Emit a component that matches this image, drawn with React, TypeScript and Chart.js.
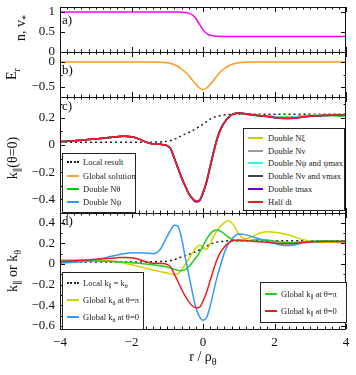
import React, { useEffect, useRef } from 'react';
import { Chart, registerables } from 'chart.js';

Chart.register(...registerables);

// ---------- data ----------
const X = [-4, -3.8, -3.6, -3.4, -3.2, -3, -2.8, -2.6, -2.4, -2.2, -2, -1.8, -1.6, -1.4, -1.2,
  -1, -0.9, -0.8, -0.7, -0.6, -0.5, -0.4, -0.3, -0.2, -0.1, 0, 0.1, 0.2, 0.3, 0.4, 0.5, 0.6, 0.7, 0.8, 0.9, 1,
  1.2, 1.4, 1.6, 1.8, 2, 2.2, 2.4, 2.6, 2.8, 3, 3.2, 3.4, 3.6, 3.8, 4];

const densityN = [1, 1, 1, 1, 1, 1, 1, 1, 1, 1, 1, 1, 1, 1, 1,
  1, 1, 0.999, 0.998, 0.996, 0.989, 0.971, 0.927, 0.836, 0.695, 0.554, 0.463, 0.419, 0.402, 0.394, 0.391, 0.39, 0.39, 0.39, 0.39, 0.39,
  0.39, 0.39, 0.39, 0.39, 0.39, 0.39, 0.39, 0.39, 0.39, 0.39, 0.39, 0.39, 0.39, 0.39, 0.39];

const radialEr = [0, 0, 0, 0, 0, 0, 0, 0, 0, 0, 0, 0, 0, -0.001, -0.004,
  -0.015, -0.03, -0.055, -0.09, -0.14, -0.2, -0.27, -0.36, -0.44, -0.52, -0.55, -0.52, -0.45, -0.36, -0.27, -0.19, -0.13, -0.085, -0.05, -0.03, -0.016,
  -0.005, -0.001, 0, 0, 0, 0, 0, 0, 0, 0, 0, 0, 0, 0, 0];

const localResult = [0.02, 0.02, 0.02, 0.02, 0.02, 0.02, 0.02, 0.02, 0.02, 0.02, 0.02, 0.02, 0.02, 0.021, 0.023,
  0.027, 0.033, 0.042, 0.055, 0.068, 0.08, 0.092, 0.105, 0.12, 0.136, 0.153, 0.172, 0.19, 0.203, 0.212, 0.218, 0.222, 0.224, 0.225, 0.226, 0.226,
  0.226, 0.226, 0.226, 0.226, 0.226, 0.226, 0.226, 0.226, 0.226, 0.226, 0.226, 0.226, 0.226, 0.226, 0.226];

const globalSolution = [0.024, 0.027, 0.031, 0.035, 0.04, 0.045, 0.05, 0.056, 0.061, 0.064, 0.06, 0.045, 0.022, 0.008, 0.005,
  -0.005, -0.03, -0.1, -0.17, -0.24, -0.3, -0.355, -0.39, -0.41, -0.405, -0.35, -0.27, -0.16, -0.05, 0.05, 0.12, 0.165, 0.2, 0.222, 0.232, 0.234,
  0.228, 0.22, 0.216, 0.213, 0.208, 0.204, 0.204, 0.207, 0.212, 0.216, 0.218, 0.219, 0.219, 0.219, 0.22];

const doubleNtheta = [0.024, 0.027, 0.031, 0.035, 0.04, 0.045, 0.05, 0.056, 0.061, 0.064, 0.06, 0.045, 0.022, 0.008, 0.005,
  -0.005, -0.03, -0.1, -0.17, -0.24, -0.3, -0.355, -0.39, -0.41, -0.405, -0.35, -0.27, -0.16, -0.05, 0.05, 0.12, 0.165, 0.2, 0.222, 0.231, 0.232,
  0.226, 0.218, 0.214, 0.211, 0.207, 0.204, 0.205, 0.208, 0.212, 0.215, 0.216, 0.216, 0.215, 0.214, 0.213];

const doubleNpsi = [0.024, 0.027, 0.031, 0.035, 0.04, 0.045, 0.05, 0.056, 0.061, 0.064, 0.06, 0.045, 0.022, 0.008, 0.005,
  -0.005, -0.03, -0.1, -0.17, -0.24, -0.3, -0.357, -0.393, -0.415, -0.41, -0.352, -0.27, -0.16, -0.05, 0.05, 0.12, 0.165, 0.2, 0.222, 0.232, 0.234,
  0.228, 0.219, 0.215, 0.212, 0.207, 0.203, 0.203, 0.206, 0.211, 0.215, 0.217, 0.218, 0.218, 0.218, 0.219];

const doubleNxi = [0.024, 0.027, 0.031, 0.035, 0.04, 0.045, 0.05, 0.056, 0.061, 0.064, 0.06, 0.045, 0.022, 0.008, 0.005,
  -0.005, -0.03, -0.1, -0.17, -0.24, -0.3, -0.355, -0.39, -0.41, -0.405, -0.35, -0.27, -0.16, -0.05, 0.05, 0.12, 0.165, 0.2, 0.223, 0.233, 0.236,
  0.23, 0.222, 0.218, 0.215, 0.21, 0.206, 0.206, 0.209, 0.214, 0.219, 0.221, 0.222, 0.223, 0.224, 0.225];

const doubleNv = [0.024, 0.027, 0.031, 0.035, 0.04, 0.045, 0.05, 0.056, 0.061, 0.064, 0.06, 0.045, 0.022, 0.008, 0.005,
  -0.005, -0.03, -0.1, -0.17, -0.24, -0.3, -0.355, -0.39, -0.41, -0.405, -0.35, -0.27, -0.16, -0.05, 0.05, 0.12, 0.165, 0.2, 0.222, 0.232, 0.234,
  0.228, 0.22, 0.216, 0.213, 0.208, 0.204, 0.204, 0.207, 0.212, 0.216, 0.218, 0.219, 0.219, 0.219, 0.22];

const doubleNpsiPsimax = [0.024, 0.027, 0.031, 0.035, 0.04, 0.045, 0.05, 0.056, 0.061, 0.064, 0.06, 0.045, 0.022, 0.008, 0.005,
  -0.005, -0.03, -0.1, -0.17, -0.24, -0.3, -0.355, -0.39, -0.41, -0.4, -0.34, -0.26, -0.14, -0.03, 0.065, 0.13, 0.172, 0.204, 0.224, 0.233, 0.234,
  0.228, 0.22, 0.216, 0.213, 0.208, 0.204, 0.204, 0.207, 0.212, 0.216, 0.218, 0.219, 0.219, 0.219, 0.22];

const doubleNvVmax = [0.024, 0.027, 0.031, 0.035, 0.04, 0.045, 0.05, 0.056, 0.061, 0.064, 0.06, 0.045, 0.022, 0.008, 0.005,
  -0.005, -0.03, -0.1, -0.17, -0.24, -0.3, -0.357, -0.393, -0.415, -0.41, -0.352, -0.27, -0.16, -0.05, 0.05, 0.12, 0.165, 0.2, 0.222, 0.232, 0.235,
  0.23, 0.222, 0.215, 0.21, 0.202, 0.196, 0.195, 0.199, 0.206, 0.212, 0.215, 0.217, 0.218, 0.218, 0.219];

const doubleTmax = [0.024, 0.027, 0.031, 0.035, 0.04, 0.045, 0.05, 0.056, 0.061, 0.064, 0.06, 0.045, 0.022, 0.008, 0.005,
  -0.005, -0.03, -0.1, -0.17, -0.24, -0.3, -0.358, -0.395, -0.42, -0.412, -0.354, -0.272, -0.16, -0.05, 0.05, 0.12, 0.165, 0.2, 0.222, 0.232, 0.235,
  0.229, 0.221, 0.214, 0.209, 0.201, 0.195, 0.194, 0.198, 0.205, 0.211, 0.215, 0.217, 0.218, 0.218, 0.219];

const halfDt = [0.024, 0.027, 0.031, 0.035, 0.04, 0.045, 0.05, 0.056, 0.061, 0.064, 0.06, 0.045, 0.022, 0.008, 0.005,
  -0.005, -0.03, -0.1, -0.17, -0.24, -0.3, -0.356, -0.392, -0.412, -0.407, -0.35, -0.27, -0.16, -0.05, 0.05, 0.12, 0.165, 0.2, 0.222, 0.231, 0.233,
  0.228, 0.22, 0.215, 0.21, 0.203, 0.197, 0.196, 0.2, 0.207, 0.213, 0.216, 0.218, 0.219, 0.219, 0.22];

const kThetaPi = [0.04, 0.04, 0.04, 0.04, 0.04, 0.039, 0.037, 0.032, 0.022, 0.008, -0.008, -0.024, -0.042, -0.058, -0.074,
  -0.088, -0.097, -0.105, -0.092, -0.055, -0.005, 0.048, 0.105, 0.155, 0.185, 0.16, 0.142, 0.195, 0.265, 0.325, 0.37, 0.4, 0.418, 0.4, 0.355, 0.29,
  0.242, 0.27, 0.3, 0.312, 0.308, 0.298, 0.28, 0.258, 0.236, 0.221, 0.213, 0.21, 0.21, 0.21, 0.21];

const kThetaZero = [0.01, 0.012, 0.016, 0.022, 0.03, 0.042, 0.056, 0.072, 0.088, 0.1, 0.108, 0.11, 0.106, 0.1, 0.14,
  0.27, 0.33, 0.375, 0.365, 0.25, 0.07, -0.1, -0.27, -0.42, -0.51, -0.545, -0.52, -0.41, -0.26, -0.12, 0.0, 0.11, 0.19, 0.24, 0.275, 0.29,
  0.282, 0.262, 0.24, 0.22, 0.2, 0.182, 0.178, 0.188, 0.205, 0.215, 0.22, 0.222, 0.22, 0.218, 0.217];

const kParPi = [0.03, 0.03, 0.03, 0.03, 0.029, 0.028, 0.026, 0.024, 0.022, 0.018, 0.013, 0.007, 0, -0.008, -0.018,
  -0.03, -0.04, -0.052, -0.062, -0.065, -0.055, -0.03, 0.015, 0.06, 0.11, 0.175, 0.24, 0.29, 0.322, 0.33, 0.315, 0.29, 0.262, 0.242, 0.228, 0.222,
  0.224, 0.232, 0.236, 0.232, 0.222, 0.212, 0.207, 0.209, 0.214, 0.219, 0.221, 0.222, 0.222, 0.221, 0.221];

const kParZero = [0.024, 0.027, 0.031, 0.035, 0.04, 0.045, 0.05, 0.056, 0.061, 0.064, 0.06, 0.045, 0.022, 0.008, 0.005,
  -0.005, -0.03, -0.1, -0.17, -0.245, -0.31, -0.365, -0.405, -0.425, -0.42, -0.36, -0.275, -0.16, -0.05, 0.05, 0.12, 0.165, 0.2, 0.222, 0.23, 0.232,
  0.228, 0.22, 0.215, 0.21, 0.203, 0.197, 0.196, 0.2, 0.207, 0.213, 0.216, 0.218, 0.219, 0.219, 0.22];

const xTickLabels = [-4, -2, 0, 2, 4];
const yTicksA = [0, 0.5, 1];
const yTicksB = [0, -0.5];
const yTicksC = [0.2, 0, -0.2, -0.4];
const yTicksD = [0.4, 0.2, 0, -0.2, -0.4, -0.6];

// ---------- styles / layout ----------
const W = 356;
const H = 375;
const FONT = '"Liberation Serif", "DejaVu Serif", serif';

const C = {
  magenta: '#ff00ff',
  er: '#ff9a1f',
  local: '#222222',
  global: '#ffa040',
  green: '#00cc00',
  blue: '#3399ff',
  yellow: '#cccc00',
  gray: '#9a9a9a',
  cyan: '#33f5f5',
  dark: '#444444',
  purple: '#6a00cc',
  red: '#ff1a1a',
  dYellow: '#d2d200',
  dGreen: '#22cc22',
  dRed: '#ee1c1c',
};

type Series = { label: string; values: number[]; color: string; dash?: number[]; width?: number };
type Panel = {
  key: string; top: number; bottom: number; min: number; max: number;
  yLabels: number[]; yStep: number; letter: string; letterY: number; xLabels: boolean;
  series: Series[];
};

// first series is drawn on top
const PANELS: Panel[] = [
  {
    key: 'a', top: 7, bottom: 52, min: 0, max: 1.125, yLabels: yTicksA, yStep: 0.5, letter: 'a)', letterY: 21, xLabels: false,
    series: [{ label: 'n', values: densityN, color: C.magenta }],
  },
  {
    key: 'b', top: 52, bottom: 97, min: -0.7, max: 0.2, yLabels: yTicksB, yStep: 0.25, letter: 'b)', letterY: 71, xLabels: false,
    series: [{ label: 'Er', values: radialEr, color: C.er }],
  },
  {
    key: 'c', top: 97, bottom: 213, min: -0.5, max: 0.353, yLabels: yTicksC, yStep: 0.1, letter: 'c)', letterY: 107, xLabels: false,
    series: [
      { label: 'Half dt', values: halfDt, color: C.red },
      { label: 'Double tmax', values: doubleTmax, color: C.purple },
      { label: 'Double Nv and vmax', values: doubleNvVmax, color: C.dark },
      { label: 'Double Nψ and ψmax', values: doubleNpsiPsimax, color: C.cyan },
      { label: 'Double Nv', values: doubleNv, color: C.gray },
      { label: 'Double Nξ', values: doubleNxi, color: C.yellow },
      { label: 'Double Nψ', values: doubleNpsi, color: C.blue },
      { label: 'Double Nθ', values: doubleNtheta, color: C.green },
      { label: 'Global solution', values: globalSolution, color: C.global },
      { label: 'Local result', values: localResult, color: C.local, dash: [2, 3] },
    ],
  },
  {
    key: 'd', top: 213, bottom: 329, min: -0.63, max: 0.494, yLabels: yTicksD, yStep: 0.1, letter: 'd)', letterY: 222, xLabels: true,
    series: [
      { label: 'Global k∥ at θ=0', values: kParZero, color: C.dRed },
      { label: 'Global k∥ at θ=π', values: kParPi, color: C.dGreen },
      { label: 'Global kθ at θ=0', values: kThetaZero, color: C.blue },
      { label: 'Global kθ at θ=π', values: kThetaPi, color: C.dYellow },
      { label: 'Local k∥ = kθ', values: localResult, color: C.local, dash: [2, 3] },
    ],
  },
];

const fmt = (v: number) => (v < 0 ? '\u2212' : '') + String(Math.abs(v));

function makeFramePlugin(p: Panel) {
  return {
    id: 'frame_' + p.key,
    afterDraw(chart: any) {
      const { ctx, chartArea: a } = chart;
      const xs = chart.scales.x;
      const ys = chart.scales.y;
      ctx.save();
      ctx.strokeStyle = '#111';
      ctx.lineWidth = 1;
      ctx.beginPath();
      for (let i = 0; i <= 40; i++) {
        const v = -4 + i * 0.2;
        const px = Math.round(xs.getPixelForValue(v)) + 0.5;
        const len = i % 10 === 0 ? 5 : 2.5;
        ctx.moveTo(px, a.top);
        ctx.lineTo(px, a.top + len);
        ctx.moveTo(px, a.bottom);
        ctx.lineTo(px, a.bottom - len);
      }
      const n0 = Math.ceil(p.min / p.yStep - 1e-9);
      const n1 = Math.floor(p.max / p.yStep + 1e-9);
      for (let k = n0; k <= n1; k++) {
        const v = k * p.yStep;
        const major = p.yLabels.some((l) => Math.abs(l - v) < 1e-6);
        const py = Math.round(ys.getPixelForValue(v)) + 0.5;
        const len = major ? 5 : 2.5;
        ctx.moveTo(a.left, py);
        ctx.lineTo(a.left + len, py);
        ctx.moveTo(a.right, py);
        ctx.lineTo(a.right - len, py);
      }
      ctx.stroke();
      const x0 = a.left + 0.5, y0 = a.top + 0.5, x1 = a.right - 0.5, y1 = a.bottom + 0.5;
      ctx.strokeRect(x0, y0, x1 - x0, y1 - y0);

      ctx.fillStyle = '#111';
      ctx.font = '13px ' + FONT;
      ctx.textAlign = 'right';
      ctx.textBaseline = 'middle';
      p.yLabels.forEach((v) => ctx.fillText(fmt(v), a.left - 5, ys.getPixelForValue(v)));
      if (p.xLabels) {
        ctx.textAlign = 'center';
        xTickLabels.forEach((v) => ctx.fillText(fmt(v), xs.getPixelForValue(v), a.bottom + 14));
      }
      ctx.textAlign = 'left';
      ctx.fillText(p.letter, a.left + 2, p.letterY);
      ctx.restore();
    },
  };
}

function PanelChart({ panel }: { panel: Panel }) {
  const ref = useRef<HTMLCanvasElement | null>(null);
  useEffect(() => {
    if (!ref.current) return;
    const chart = new Chart(ref.current, {
      type: 'line',
      data: {
        datasets: panel.series.map((s) => ({
          label: s.label,
          data: X.map((x, i) => ({ x, y: s.values[i] })),
          borderColor: s.color,
          backgroundColor: s.color,
          borderWidth: s.width ?? 1.5,
          borderDash: s.dash ?? [],
          pointRadius: 0,
          fill: false,
          cubicInterpolationMode: 'monotone' as const,
        })),
      },
      options: {
        animation: false,
        responsive: false,
        maintainAspectRatio: false,
        events: [],
        layout: { padding: { left: 60, right: W - 346, top: panel.top, bottom: H - panel.bottom } },
        scales: {
          x: { type: 'linear', min: -4, max: 4, display: false },
          y: { type: 'linear', min: panel.min, max: panel.max, display: false },
        },
        plugins: { legend: { display: false }, tooltip: { enabled: false } },
      },
      plugins: [makeFramePlugin(panel)],
    } as any);
    return () => chart.destroy();
  }, [panel]);
  return <canvas ref={ref} width={W} height={H} style={{ position: 'absolute', left: 0, top: 0, width: W, height: H }} />;
}

const Sub = ({ children }: { children: React.ReactNode }) => (
  <span style={{ fontSize: '0.72em', position: 'relative', top: '0.35em' }}>{children}</span>
);

type Row = { y: number; color: string; dotted?: boolean; label: React.ReactNode };

function LegendBox({ left, top, width, height, lineX, lineW, textX, rows }: {
  left: number; top: number; width: number; height: number; lineX: number; lineW: number; textX: number; rows: Row[];
}) {
  return (
    <div style={{ position: 'absolute', left, top, width, height, border: '1px solid #222', background: '#fff', boxSizing: 'border-box' }}>
      {rows.map((r, i) => (
        <React.Fragment key={i}>
          <div style={{
            position: 'absolute', left: lineX - left - 1, top: r.y - top - 2, width: lineW, height: 0,
            borderTop: r.dotted ? '2px dotted #222' : `2px solid ${r.color}`,
          }} />
          <div style={{
            position: 'absolute', left: textX - left - 1, top: r.y - top - 1, transform: 'translateY(-50%)',
            fontSize: 8.5, lineHeight: 1, whiteSpace: 'nowrap', color: '#222', fontFamily: FONT,
          }}>{r.label}</div>
        </React.Fragment>
      ))}
    </div>
  );
}

function RotTitle({ cx, cy, children }: { cx: number; cy: number; children: React.ReactNode }) {
  return (
    <div style={{
      position: 'absolute', left: cx, top: cy, transform: 'translate(-50%, -50%) rotate(-90deg)',
      whiteSpace: 'nowrap', fontSize: 14, lineHeight: 1, fontFamily: FONT, color: '#111',
    }}>{children}</div>
  );
}

export default function App() {
  return (
    <div style={{ position: 'absolute', left: 0, top: 0, width: W, height: H, background: '#fff', overflow: 'hidden' }}>
      {PANELS.map((p) => <PanelChart key={p.key} panel={p} />)}

      <RotTitle cx={21} cy={28}>n, v<Sub>*</Sub></RotTitle>
      <RotTitle cx={12} cy={74}>E<Sub>r</Sub></RotTitle>
      <RotTitle cx={13} cy={158}>k<Sub>∥</Sub>(θ=0)</RotTitle>
      <RotTitle cx={13} cy={271}>k<Sub>∥</Sub> or k<Sub>θ</Sub></RotTitle>

      <div style={{ position: 'absolute', left: 203, top: 357, transform: 'translate(-50%, -50%)', fontSize: 14, lineHeight: 1, fontFamily: FONT, whiteSpace: 'nowrap', color: '#111' }}>
        r / ρ<Sub>θ</Sub>
      </div>

      <LegendBox left={62} top={153} width={74} height={60} lineX={67} lineW={12} textX={83}
        rows={[
          { y: 162, color: C.local, dotted: true, label: 'Local result' },
          { y: 175.5, color: C.global, label: 'Global solution' },
          { y: 188.7, color: C.green, label: 'Double Nθ' },
          { y: 202, color: C.blue, label: 'Double Nψ' },
        ]} />

      <LegendBox left={243} top={128} width={102} height={83} lineX={248} lineW={15} textX={268}
        rows={[
          { y: 137.7, color: C.yellow, label: 'Double Nξ' },
          { y: 150.6, color: C.gray, label: 'Double Nv' },
          { y: 163.4, color: C.cyan, label: 'Double Nψ and ψmax' },
          { y: 176.2, color: C.dark, label: 'Double Nv and vmax' },
          { y: 189, color: C.purple, label: 'Double tmax' },
          { y: 201.8, color: C.red, label: 'Half dt' },
        ]} />

      <LegendBox left={62} top={272} width={82} height={58} lineX={67} lineW={12} textX={83}
        rows={[
          { y: 283, color: C.local, dotted: true, label: <>Local k<Sub>∥</Sub> = k<Sub>θ</Sub></> },
          { y: 300, color: C.dYellow, label: <>Global k<Sub>θ</Sub> at θ=π</> },
          { y: 316.5, color: C.blue, label: <>Global k<Sub>θ</Sub> at θ=0</> },
        ]} />

      <LegendBox left={260} top={282} width={87} height={41} lineX={265} lineW={12} textX={281}
        rows={[
          { y: 293.5, color: C.dGreen, label: <>Global k<Sub>∥</Sub> at θ=π</> },
          { y: 310.7, color: C.dRed, label: <>Global k<Sub>∥</Sub> at θ=0</> },
        ]} />
    </div>
  );
}
